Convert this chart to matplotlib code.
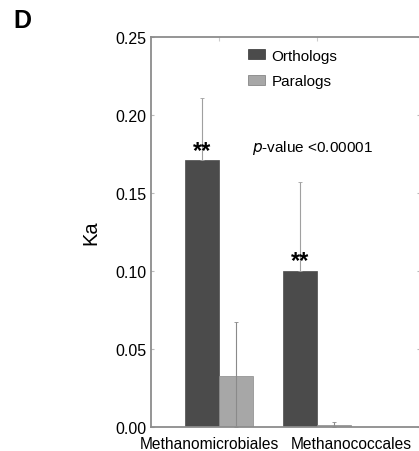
import numpy as np
from matplotlib import pyplot as plt
from matplotlib.patches import Patch

plt.rcParams['font.family'] = ['Liberation Sans', 'DejaVu Sans']

# values
groups = ['Methanomicrobiales', 'Methanococcales']
series = ['Orthologs', 'Paralogs']
orthologs = [0.171, 0.100]
orthologs_err = [0.040, 0.057]
paralogs = [0.033, 0.0013]
paralogs_err = [0.034, 0.0017]
yticks = [0.00, 0.05, 0.10, 0.15, 0.20, 0.25]

dark = '#4b4b4b'
light = '#a7a7a7'
axis_gray = '#8c8c8c'

fig = plt.figure(figsize=(4.19, 4.52), dpi=100)
ax = fig.add_axes([151 / 419, 24 / 452, 269 / 419, 390 / 452])

x = np.arange(len(groups))
w = 0.347

ax.bar(x - w / 2, orthologs, w, color=dark, edgecolor=dark, linewidth=0.5, zorder=2)
ax.bar(x + w / 2, paralogs, w, color=light, edgecolor='#8a8a8a', linewidth=0.5, zorder=2)

# error bars: upper only on orthologs, full on paralogs
ax.errorbar(x - w / 2, orthologs, yerr=[np.zeros(len(x)), orthologs_err],
            fmt='none', ecolor='#a0a0a0', elinewidth=0.8, capsize=1.5,
            capthick=0.6, zorder=3)
ax.errorbar(x + w / 2, paralogs, yerr=[paralogs, paralogs_err],
            fmt='none', ecolor='#8a8a8a', elinewidth=0.8, capsize=1.5,
            capthick=0.6, zorder=3)

for xi, v in zip(x - w / 2, orthologs):
    ax.text(xi, v + 0.0065, '**', ha='center', va='center',
            fontsize=17, fontweight='bold', color='black', zorder=4)

ax.text(0.337, 0.1795, '$\\it{p}$-value <0.00001', ha='left', va='center',
        fontsize=11, color='black')

ax.set_xlim(-0.694, 2.051)
ax.set_ylim(0, 0.25)
ax.set_yticks(yticks)
ax.set_yticklabels(['%.2f' % t for t in yticks], fontsize=11.5)
ax.tick_params(axis='y', direction='in', length=2, color='#bbbbbb', pad=3,
               right=True)

# group labels sit a little off the group centres, as in the original
ax.set_xticks(x)
ax.set_xticklabels([])
ax.tick_params(axis='x', top=True, bottom=False, direction='in', length=3,
               color='#cccccc')
label_x = [-0.097, 1.347]
for lx, g in zip(label_x, groups):
    ax.text(lx, -0.006, g, ha='center', va='top', fontsize=11.2,
            clip_on=False)

for sp in ax.spines.values():
    sp.set_color(axis_gray)
    sp.set_linewidth(1.3)

ax.set_ylabel('Ka', fontsize=14.5, labelpad=11)

handles = [Patch(facecolor=dark, edgecolor='#333333', linewidth=0.5),
           Patch(facecolor=light, edgecolor='#777777', linewidth=0.5)]
ax.legend(handles, series, loc='upper left', bbox_to_anchor=(0.36, 0.97),
          frameon=False, fontsize=11, borderpad=0, borderaxespad=0,
          handlelength=1.1, handleheight=0.65, handletextpad=0.45,
          labelspacing=0.75)

fig.text(13 / 419, 1 - 21 / 452, 'D', fontsize=18, fontweight='bold',
         ha='left', va='center')

fig.savefig('out.png', dpi=100)
